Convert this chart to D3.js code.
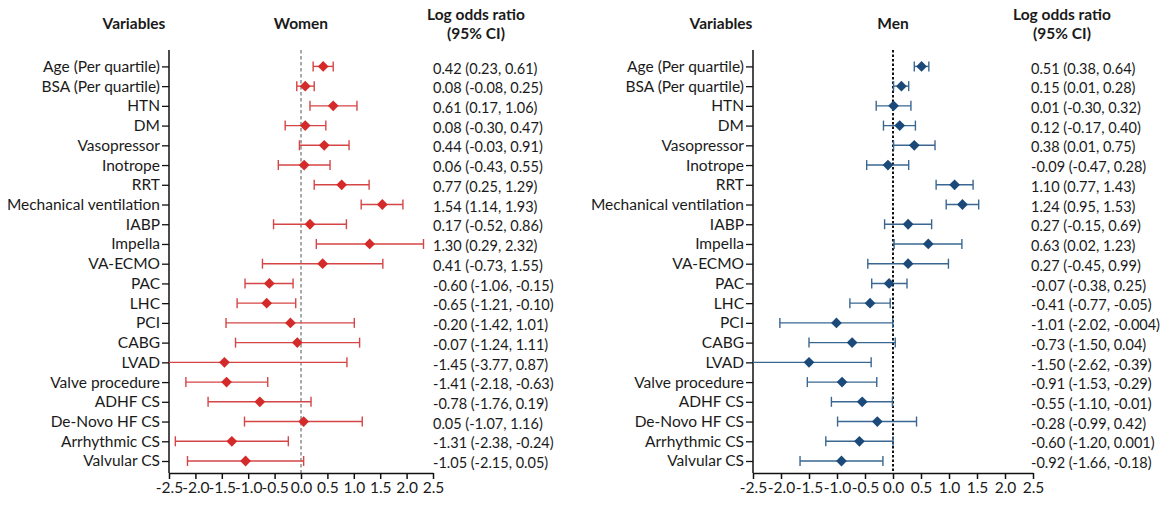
<!DOCTYPE html>
<html><head><meta charset="utf-8">
<script src="https://cdn.jsdelivr.net/npm/d3@7"></script>
<style>
body{margin:0;background:#fff;}
text{font-family:Lato,"Open Sans",sans-serif;fill:#1a1a1a;}
</style></head>
<body><svg id="chart" width="1167" height="508"></svg>
<script>
const variables = ["Age (Per quartile)","BSA (Per quartile)","HTN","DM","Vasopressor","Inotrope","RRT","Mechanical ventilation","IABP","Impella","VA-ECMO","PAC","LHC","PCI","CABG","LVAD","Valve procedure","ADHF CS","De-Novo HF CS","Arrhythmic CS","Valvular CS"];

const womenEst = [0.42,0.08,0.61,0.08,0.44,0.06,0.77,1.54,0.17,1.30,0.41,-0.60,-0.65,-0.20,-0.07,-1.45,-1.41,-0.78,0.05,-1.31,-1.05];
const womenLo  = [0.23,-0.08,0.17,-0.30,-0.03,-0.43,0.25,1.14,-0.52,0.29,-0.73,-1.06,-1.21,-1.42,-1.24,-3.77,-2.18,-1.76,-1.07,-2.38,-2.15];
const womenHi  = [0.61,0.25,1.06,0.47,0.91,0.55,1.29,1.93,0.86,2.32,1.55,-0.15,-0.10,1.01,1.11,0.87,-0.63,0.19,1.16,-0.24,0.05];
const womenText = ["0.42 (0.23, 0.61)","0.08 (-0.08, 0.25)","0.61 (0.17, 1.06)","0.08 (-0.30, 0.47)","0.44 (-0.03, 0.91)","0.06 (-0.43, 0.55)","0.77 (0.25, 1.29)","1.54 (1.14, 1.93)","0.17 (-0.52, 0.86)","1.30 (0.29, 2.32)","0.41 (-0.73, 1.55)","-0.60 (-1.06, -0.15)","-0.65 (-1.21, -0.10)","-0.20 (-1.42, 1.01)","-0.07 (-1.24, 1.11)","-1.45 (-3.77, 0.87)","-1.41 (-2.18, -0.63)","-0.78 (-1.76, 0.19)","0.05 (-1.07, 1.16)","-1.31 (-2.38, -0.24)","-1.05 (-2.15, 0.05)"];

const menEst = [0.51,0.15,0.01,0.12,0.38,-0.09,1.10,1.24,0.27,0.63,0.27,-0.07,-0.41,-1.01,-0.73,-1.50,-0.91,-0.55,-0.28,-0.60,-0.92];
const menLo  = [0.38,0.01,-0.30,-0.17,0.01,-0.47,0.77,0.95,-0.15,0.02,-0.45,-0.38,-0.77,-2.02,-1.50,-2.62,-1.53,-1.10,-0.99,-1.20,-1.66];
const menHi  = [0.64,0.28,0.32,0.40,0.75,0.28,1.43,1.53,0.69,1.23,0.99,0.25,-0.05,-0.004,0.04,-0.39,-0.29,-0.01,0.42,0.001,-0.18];
const menText = ["0.51 (0.38, 0.64)","0.15 (0.01, 0.28)","0.01 (-0.30, 0.32)","0.12 (-0.17, 0.40)","0.38 (0.01, 0.75)","-0.09 (-0.47, 0.28)","1.10 (0.77, 1.43)","1.24 (0.95, 1.53)","0.27 (-0.15, 0.69)","0.63 (0.02, 1.23)","0.27 (-0.45, 0.99)","-0.07 (-0.38, 0.25)","-0.41 (-0.77, -0.05)","-1.01 (-2.02, -0.004)","-0.73 (-1.50, 0.04)","-1.50 (-2.62, -0.39)","-0.91 (-1.53, -0.29)","-0.55 (-1.10, -0.01)","-0.28 (-0.99, 0.42)","-0.60 (-1.20, 0.001)","-0.92 (-1.66, -0.18)"];

const xTicks = [-2.5,-2.0,-1.5,-1.0,-0.5,0.0,0.5,1.0,1.5,2.0,2.5];
const xDomain = [-2.5, 2.5];

const svg = d3.select("#chart");
const FS = 15.5;
const VFS = 14.5;

const panels = [
  {title:"Women", est:womenEst, lo:womenLo, hi:womenHi, txt:womenText,
   x0:169, x1:433, varX:134, textX:433, headX:476,
   dot:"#d42a2a", line:"#d64545", lineW:1.4,
   refColor:"#555", refW:1, refDash:"3.5,2.5"},
  {title:"Men", est:menEst, lo:menLo, hi:menHi, txt:menText,
   x0:753, x1:1033, varX:721, textX:1031, headX:1062,
   dot:"#1b4a7a", line:"#3a6791", lineW:1.4,
   refColor:"#111", refW:2, refDash:"2.5,2"}
];

const yTop = 50, yBottom = 473;
const y = d3.scalePoint().domain(variables).range([66.4, 461]);

panels.forEach(p => {
  const g = svg.append("g");
  const x = d3.scaleLinear().domain(xDomain).range([p.x0, p.x1]);

  g.append("text").attr("x", p.varX).attr("y", 25).attr("text-anchor","middle")
    .attr("dominant-baseline","middle").attr("font-weight","bold").attr("font-size",FS).text("Variables");
  g.append("text").attr("x", x(0)).attr("y", 25).attr("text-anchor","middle")
    .attr("dominant-baseline","middle").attr("font-weight","bold").attr("font-size",FS).text(p.title);
  g.append("text").attr("x", p.headX).attr("y", 16).attr("text-anchor","middle")
    .attr("dominant-baseline","middle").attr("font-weight","bold").attr("font-size",FS).text("Log odds ratio");
  g.append("text").attr("x", p.headX).attr("y", 35).attr("text-anchor","middle")
    .attr("dominant-baseline","middle").attr("font-weight","bold").attr("font-size",FS).text("(95% CI)");

  g.append("line").attr("x1", x(0)).attr("x2", x(0)).attr("y1", yTop).attr("y2", yBottom)
    .attr("stroke", p.refColor).attr("stroke-width", p.refW).attr("stroke-dasharray", p.refDash);

  const ya = g.append("g").attr("transform", `translate(${p.x0},0)`)
    .call(d3.axisLeft(y).tickSize(7).tickPadding(2));
  ya.select(".domain").remove();
  ya.selectAll(".tick line").attr("stroke","#111").attr("stroke-width",1.3);
  ya.selectAll(".tick text").attr("font-size",FS).attr("font-family","Lato").attr("fill","#1a1a1a");
  g.append("line").attr("x1", p.x0).attr("x2", p.x0).attr("y1", yTop).attr("y2", yBottom)
    .attr("stroke","#111").attr("stroke-width",1.5);

  const xa = g.append("g").attr("transform", `translate(0,${yBottom})`)
    .call(d3.axisBottom(x).tickValues(xTicks).tickFormat(d3.format(".1f")).tickSize(6).tickSizeOuter(0).tickPadding(3));
  xa.select(".domain").attr("stroke","#111").attr("stroke-width",1.5);
  xa.selectAll(".tick line").attr("stroke","#111").attr("stroke-width",1.5);
  xa.selectAll(".tick text").attr("font-size",FS).attr("font-family","Lato").attr("fill","#1a1a1a")
    .text(d => d3.format(".1f")(d).replace("−","-"));

  const rows = variables.map((v,i)=>({v, est:p.est[i], lo:p.lo[i], hi:p.hi[i], txt:p.txt[i]}));
  const cg = g.append("g");
  rows.forEach(r => {
    const lo = Math.max(r.lo, xDomain[0]), hi = Math.min(r.hi, xDomain[1]);
    const yy = y(r.v);
    cg.append("line").attr("x1", x(lo)).attr("x2", x(hi)).attr("y1", yy).attr("y2", yy)
      .attr("stroke", p.line).attr("stroke-width", p.lineW);
    if (r.lo >= xDomain[0]) cg.append("line").attr("x1", x(r.lo)).attr("x2", x(r.lo)).attr("y1", yy-5).attr("y2", yy+5)
      .attr("stroke", p.line).attr("stroke-width", p.lineW);
    if (r.hi <= xDomain[1]) cg.append("line").attr("x1", x(r.hi)).attr("x2", x(r.hi)).attr("y1", yy-5).attr("y2", yy+5)
      .attr("stroke", p.line).attr("stroke-width", p.lineW);
  });
  g.append("g").selectAll("path").data(rows).join("path")
    .attr("d", d3.symbol(d3.symbolSquare, 58)())
    .attr("transform", d => `translate(${x(d.est)},${y(d.v)}) rotate(45)`)
    .attr("fill", p.dot);

  g.append("g").selectAll("text").data(rows).join("text")
    .attr("x", p.textX).attr("y", d => y(d.v)+3.5).attr("dominant-baseline","middle")
    .attr("font-size", VFS).text(d => d.txt);
});
</script></body></html>
